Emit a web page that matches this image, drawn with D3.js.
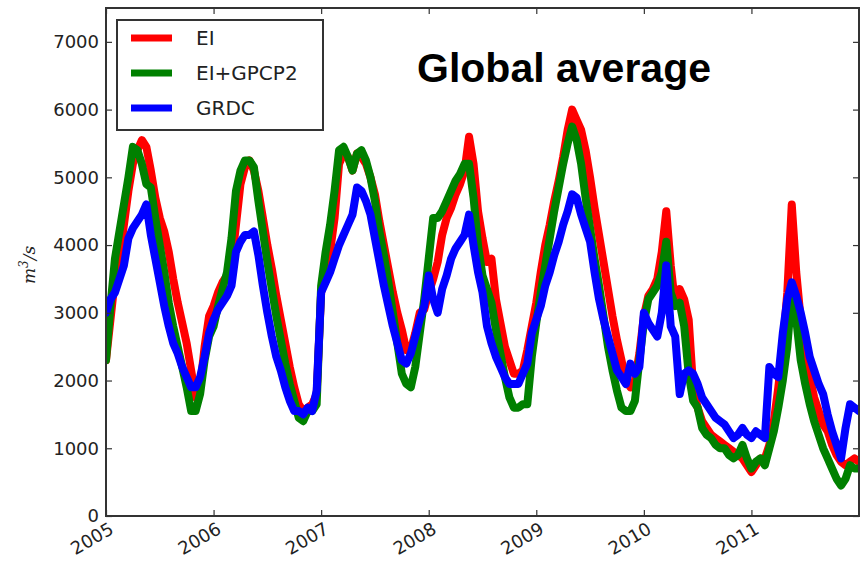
<!DOCTYPE html>
<html>
<meta charset="utf-8">
<style>
    body { margin: 0; background: #fff; }
    .axis path, .axis line { fill: none; stroke: #333; }
    .axis text { font: 18px "DejaVu Sans", sans-serif; fill: #222; }
</style>
<body>
<script src="https://cdn.jsdelivr.net/npm/d3@7"></script>
<div id="chart"></div>
<script>
    // half-month samples, 24 per year, starting Jan 2005
    var startYear = 2005, stepsPerYear = 24;

    var ei = [
        2300,2900,3500,3800,4300,4800,5200,5400,5550,5450,5100,4700,4400,4200,3900,3500,3150,2850,2550,2150,1750,1900,2500,2950,
        3100,3300,3450,3550,3700,4300,4900,5150,5250,5100,4800,4400,4000,3650,3250,2900,2550,2200,1900,1650,1550,1600,1650,1800,
        3300,3600,3900,4400,5200,5350,5300,5100,5350,5300,5200,5000,4750,4350,4000,3650,3300,3000,2750,2450,2450,2700,3000,3050,
        3300,3500,3750,4150,4400,4550,4750,4900,5100,5600,5200,4500,4100,3750,3800,3200,2850,2500,2300,2100,2100,2150,2450,2800,
        3150,3600,4000,4300,4650,4950,5300,5700,6000,5850,5700,5400,5000,4550,4150,3750,3350,2950,2600,2300,2000,1900,2000,2400,
        2950,3250,3350,3500,3900,4500,3700,3100,3350,3200,2900,1900,1600,1400,1300,1200,1150,1100,1050,1000,950,900,850,750,
        650,750,850,850,1050,1400,1900,2500,3300,4600,3600,2900,2450,2050,1750,1550,1350,1250,1050,900,800,750,800,850,800
    ];
    var eiGpcp2 = [
        2300,3100,3800,4200,4600,5000,5450,5400,5200,4900,4850,4400,4000,3600,3150,2800,2500,2200,1900,1550,1550,1800,2300,2650,
        2800,3100,3350,3600,4100,4800,5100,5250,5250,5150,4650,4200,3750,3350,2950,2600,2250,1950,1700,1450,1400,1550,1550,1650,
        3400,3900,4300,4800,5400,5450,5300,5100,5350,5400,5250,5000,4650,4200,3850,3450,3000,2550,2100,1950,1900,2200,2700,3200,
        3800,4400,4400,4500,4650,4800,4950,5050,5200,5200,4700,4000,3550,3350,3150,2750,2400,2050,1750,1600,1600,1650,1650,2350,
        2850,3300,3700,4100,4500,4850,5200,5500,5750,5550,5200,4700,4250,3800,3400,2950,2500,2150,1850,1600,1550,1550,1700,2300,
        2850,3200,3300,3400,3600,4050,3300,3100,3150,2800,2100,1700,1600,1300,1200,1150,1050,1000,1000,900,850,900,1050,850,
        700,800,850,750,1000,1250,1600,2000,2500,3300,2900,2300,1950,1650,1400,1200,1000,850,700,550,450,550,750,700,700
    ];
    var grdc = [
        3000,3200,3300,3500,3700,4100,4250,4350,4450,4600,4150,3800,3450,3100,2800,2550,2400,2200,2050,1900,1900,2050,2350,2700,
        2900,3050,3150,3250,3400,3900,4050,4150,4150,4200,3850,3400,3000,2650,2350,2150,1900,1700,1550,1550,1500,1600,1550,1850,
        3300,3450,3600,3800,4000,4150,4300,4450,4850,4800,4650,4450,4100,3750,3400,3100,2800,2550,2300,2250,2400,2650,2900,3100,
        3550,3200,3000,3350,3550,3800,3950,4050,4150,4450,4000,3600,3300,2800,2550,2350,2200,2050,1950,1950,1950,2100,2250,2700,
        2900,3100,3400,3600,3850,4050,4300,4500,4750,4700,4450,4250,4050,3600,3200,2900,2650,2400,2150,2050,1950,2250,2100,2200,
        3000,2850,2750,2650,3000,3700,2800,2650,1800,2100,2150,2100,1950,1750,1650,1550,1450,1400,1350,1250,1150,1200,1300,1200,
        1150,1250,1200,1150,2200,2100,2050,2700,3200,3450,3250,3000,2700,2350,2150,1950,1800,1500,1250,1050,850,1300,1650,1600,1550
    ];

    var seriesNames = ["EI", "EI+GPCP2", "GRDC"];
    var seriesColors = ["#ff0000", "#008000", "#0000ff"];
    var seriesValues = [ei, eiGpcp2, grdc];
    var yearTicks = [2005, 2006, 2007, 2008, 2009, 2010, 2011];
    var valueTicks = [0, 1000, 2000, 3000, 4000, 5000, 6000, 7000];

    var W = 865, H = 561;
    var margin = {top: 8, right: 6, bottom: 45, left: 106};
    var width = W - margin.left - margin.right;
    var height = H - margin.top - margin.bottom;

    var svg = d3.select("#chart").append("svg")
        .attr("width", W)
        .attr("height", H);

    var g = svg.append("g")
        .attr("transform", "translate(" + margin.left + "," + margin.top + ")");

    var x = d3.scaleLinear().domain([2005, 2012]).range([0, width]);
    var y = d3.scaleLinear().domain([0, 7500]).range([height, 0]);

    g.append("clipPath").attr("id", "plotclip")
        .append("rect").attr("width", width).attr("height", height);

    var line = d3.line()
        .x(function (d, i) { return x(startYear + i / stepsPerYear); })
        .y(function (d) { return y(d); });

    var lines = g.append("g").attr("clip-path", "url(#plotclip)");
    seriesValues.forEach(function (vals, k) {
        lines.append("path")
            .datum(vals)
            .attr("d", line)
            .attr("fill", "none")
            .attr("stroke", seriesColors[k])
            .attr("stroke-width", 8)
            .attr("stroke-linejoin", "round")
            .attr("stroke-linecap", "round");
    });

    // axes, matplotlib style: ticks pointing in, on all four sides
    var xAxis = g.append("g").attr("class", "axis")
        .attr("transform", "translate(0," + height + ")")
        .call(d3.axisBottom(x).tickValues(yearTicks).tickFormat(d3.format("d"))
            .tickSizeInner(-6).tickSizeOuter(0));
    xAxis.selectAll("text")
        .attr("y", 5)
        .attr("x", -1)
        .attr("dy", "0.75em")
        .attr("text-anchor", "end")
        .attr("transform", "rotate(-30)");

    g.append("g").attr("class", "axis")
        .call(d3.axisLeft(y).tickValues(valueTicks).tickFormat(d3.format("d"))
            .tickSizeInner(-6).tickSizeOuter(0).tickPadding(7));

    g.append("g").attr("class", "axis")
        .call(d3.axisTop(x).tickValues(yearTicks).tickFormat("")
            .tickSizeInner(-6).tickSizeOuter(0));

    g.append("g").attr("class", "axis")
        .attr("transform", "translate(" + width + ",0)")
        .call(d3.axisRight(y).tickValues(valueTicks).tickFormat("")
            .tickSizeInner(-6).tickSizeOuter(0));

    g.selectAll(".axis path").remove();
    g.selectAll(".axis line").attr("stroke", "#333").attr("stroke-width", 1.2);

    g.append("rect")
        .attr("width", width).attr("height", height)
        .attr("fill", "none").attr("stroke", "#333").attr("stroke-width", 2);

    // y label  m^3/s
    var yl = svg.append("text")
        .attr("transform", "translate(35,265) rotate(-90)")
        .attr("text-anchor", "middle")
        .style("font", "italic 17px 'DejaVu Serif', serif")
        .attr("fill", "#222");
    yl.append("tspan").text("m");
    yl.append("tspan").attr("dy", -7).style("font-size", "12px").text("3");
    yl.append("tspan").attr("dy", 7).text("/s");

    // legend
    var legend = svg.append("g");
    legend.append("rect")
        .attr("x", 117).attr("y", 20).attr("width", 206).attr("height", 110)
        .attr("fill", "#fff").attr("stroke", "#333").attr("stroke-width", 2);
    seriesNames.forEach(function (name, k) {
        var ly = 38 + k * 35;
        legend.append("line")
            .attr("x1", 131).attr("x2", 172).attr("y1", ly).attr("y2", ly)
            .attr("stroke", seriesColors[k]).attr("stroke-width", 7);
        legend.append("text")
            .attr("x", 196).attr("y", ly)
            .attr("dy", "0.36em")
            .style("font", "20px 'DejaVu Sans', sans-serif")
            .attr("fill", "#222")
            .text(name);
    });

    svg.append("text")
        .attr("x", 564).attr("y", 82)
        .attr("text-anchor", "middle")
        .style("font", "bold 41px 'Liberation Sans', Arial, sans-serif")
        .attr("fill", "#000")
        .text("Global average");
</script>
</body>
</html>
